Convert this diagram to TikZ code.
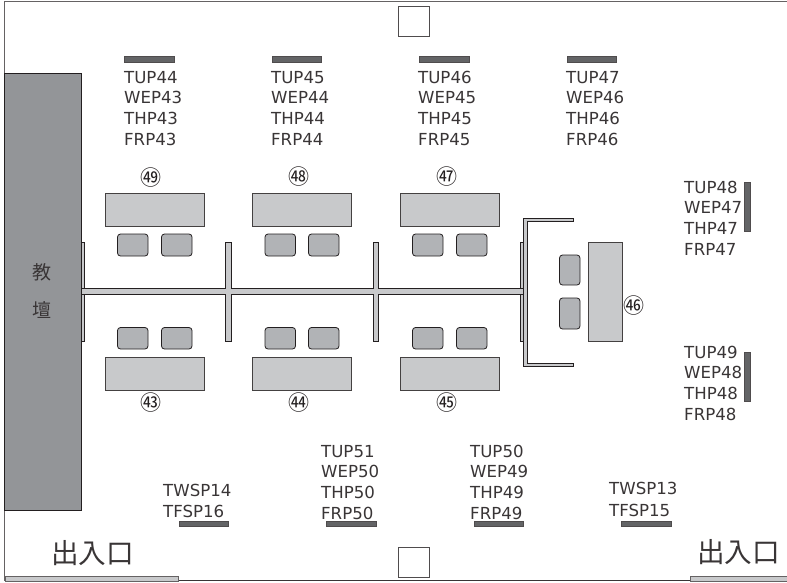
\documentclass[tikz,border=0pt]{standalone}
\usepackage{fontspec}
\setmainfont{DejaVu Sans}
\newfontfamily\cjkfont{Noto Sans CJK JP}
\definecolor{ink}{HTML}{231F20}
\definecolor{platform}{HTML}{939598}
\definecolor{deskgray}{HTML}{C8C9CB}
\definecolor{chairgray}{HTML}{B1B3B6}
\definecolor{bargray}{HTML}{636466}
\tikzset{
  desk/.style={draw=ink!85,line width=0.8pt,fill=deskgray},
  chair/.style={draw=ink,line width=0.8pt,fill=chairgray,rounded corners=3pt},
  bar/.style={draw=ink!80,line width=0.7pt,fill=bargray},
  wall/.style={draw=ink,line width=0.6pt,fill=deskgray},
  door/.style={draw=ink!70,line width=0.8pt,fill=deskgray},
  pillar/.style={draw=ink!80,line width=0.8pt,fill=white},
  lab/.style={anchor=west,inner sep=0pt,text=ink!90,font=\fontsize{16.6}{16.6}\selectfont,text height=12pt,text depth=0pt},
  num/.style={inner sep=0pt,text=ink,font=\cjkfont\fontsize{21}{21}\selectfont},
  cjk/.style={inner sep=0pt,text=ink!90,font=\cjkfont\fontsize{27.6}{27.6}\selectfont},
  cjksmall/.style={inner sep=0pt,text=ink!90,font=\cjkfont\fontsize{19}{19}\selectfont}
}
\newcommand{\fourlab}[6]{%
  \node[lab] at (#1,#2) {#3};
  \node[lab] at (#1,#2+20.5) {#4};
  \node[lab] at (#1,#2+41.5) {#5};
  \node[lab] at (#1,#2+62) {#6};
}
\begin{document}
\begin{tikzpicture}[x=1pt,y=-1pt]
\useasboundingbox (0,0) rectangle (787,582);
% room
\draw[draw=ink!70,line width=1pt] (4.5,580.5) -- (4.5,1) -- (787,1);
\draw[draw=ink!90,line width=1pt] (4.5,580.5) -- (787,580.5);
% platform
\path[draw=ink,line width=0.8pt,fill=platform] (4.5,73) rectangle (81,510);
\node[cjksmall] (jiao) at (42,272) {教};
\node[cjksmall] (tan) at (42,310) {壇};
% pillars
\draw[pillar] (398,6) rectangle (429,36);
\draw[pillar] (398,547) rectangle (429,577);
% doors
\draw[door] (5,576) rectangle (178,581);
\draw[door] (690,576) rectangle (787,581);
\node[cjk,anchor=west] (door1) at (51,553) {出入口};
\node[cjk,anchor=west] (door2) at (697,552) {出入口};
% partitions
\draw[wall] (81,242) rectangle (84,341);
\draw[wall] (225.5,242) rectangle (231,341);
\draw[wall] (373,242) rectangle (378.5,341);
\draw[wall] (520,242) rectangle (523.5,341);
\draw[wall] (81,288.5) rectangle (523.5,294);
\fill[deskgray] (226,288) rectangle (230.5,295);
\fill[deskgray] (373.5,288) rectangle (378,295);
\draw[wall] (573,218) -- (523.5,218) -- (523.5,366) -- (573,366) -- (573,363.5) -- (527.5,363.5) -- (527.5,221) -- (573,221) -- cycle;
% desks
\foreach \x in {105,252.5,400}{
  \draw[desk] (\x,193) rectangle +(99,33);
  \draw[desk] (\x,357) rectangle +(99,33);
}
\draw[desk] (588.5,242) rectangle (622,341);
% chairs
\foreach \x in {117.5,161.5,265,308.5,412.5,456.5}{
  \draw[chair] (\x,234) rectangle +(30.5,22);
  \draw[chair] (\x,327.5) rectangle +(30.5,21.5);
}
\draw[chair] (559.5,255) rectangle (580,285);
\draw[chair] (559.5,298) rectangle (580,329);
% lamp bars
\foreach \x in {124.5,272,419.5,567}{\draw[bar] (\x,56.5) rectangle +(49.5,5.5);}
\foreach \x in {179,326.5,474,621.5}{\draw[bar] (\x,521) rectangle +(49.5,5.5);}
\draw[bar] (744.5,182.5) rectangle (750,231.5);
\draw[bar] (744.5,352) rectangle (750,401);
% labels
\fourlab{124}{77}{TUP44}{WEP43}{THP43}{FRP43}{}
\fourlab{271}{77}{TUP45}{WEP44}{THP44}{FRP44}{}
\fourlab{418}{77}{TUP46}{WEP45}{THP45}{FRP45}{}
\fourlab{566}{77}{TUP47}{WEP46}{THP46}{FRP46}{}
\fourlab{684}{187}{TUP48}{WEP47}{THP47}{FRP47}{}
\fourlab{684}{352}{TUP49}{WEP48}{THP48}{FRP48}{}
\fourlab{321}{451}{TUP51}{WEP50}{THP50}{FRP50}{}
\fourlab{470}{451}{TUP50}{WEP49}{THP49}{FRP49}{}
\node[lab] (twsp14) at (163,490) {TWSP14};
\node[lab] (tfsp16) at (163,511) {TFSP16};
\node[lab] (twsp13) at (609,488) {TWSP13};
\node[lab] (tfsp15) at (609,510) {TFSP15};
% seat numbers
\node[num] (n49) at (151,178) {㊾};
\node[num] (n48) at (299,177) {㊽};
\node[num] (n47) at (447,177) {㊼};
\node[num] (n43) at (151,403) {㊸};
\node[num] (n44) at (299,403) {㊹};
\node[num] (n45) at (447,403) {㊺};
\node[num] (n46) at (634,306) {㊻};
\end{tikzpicture}
\end{document}
